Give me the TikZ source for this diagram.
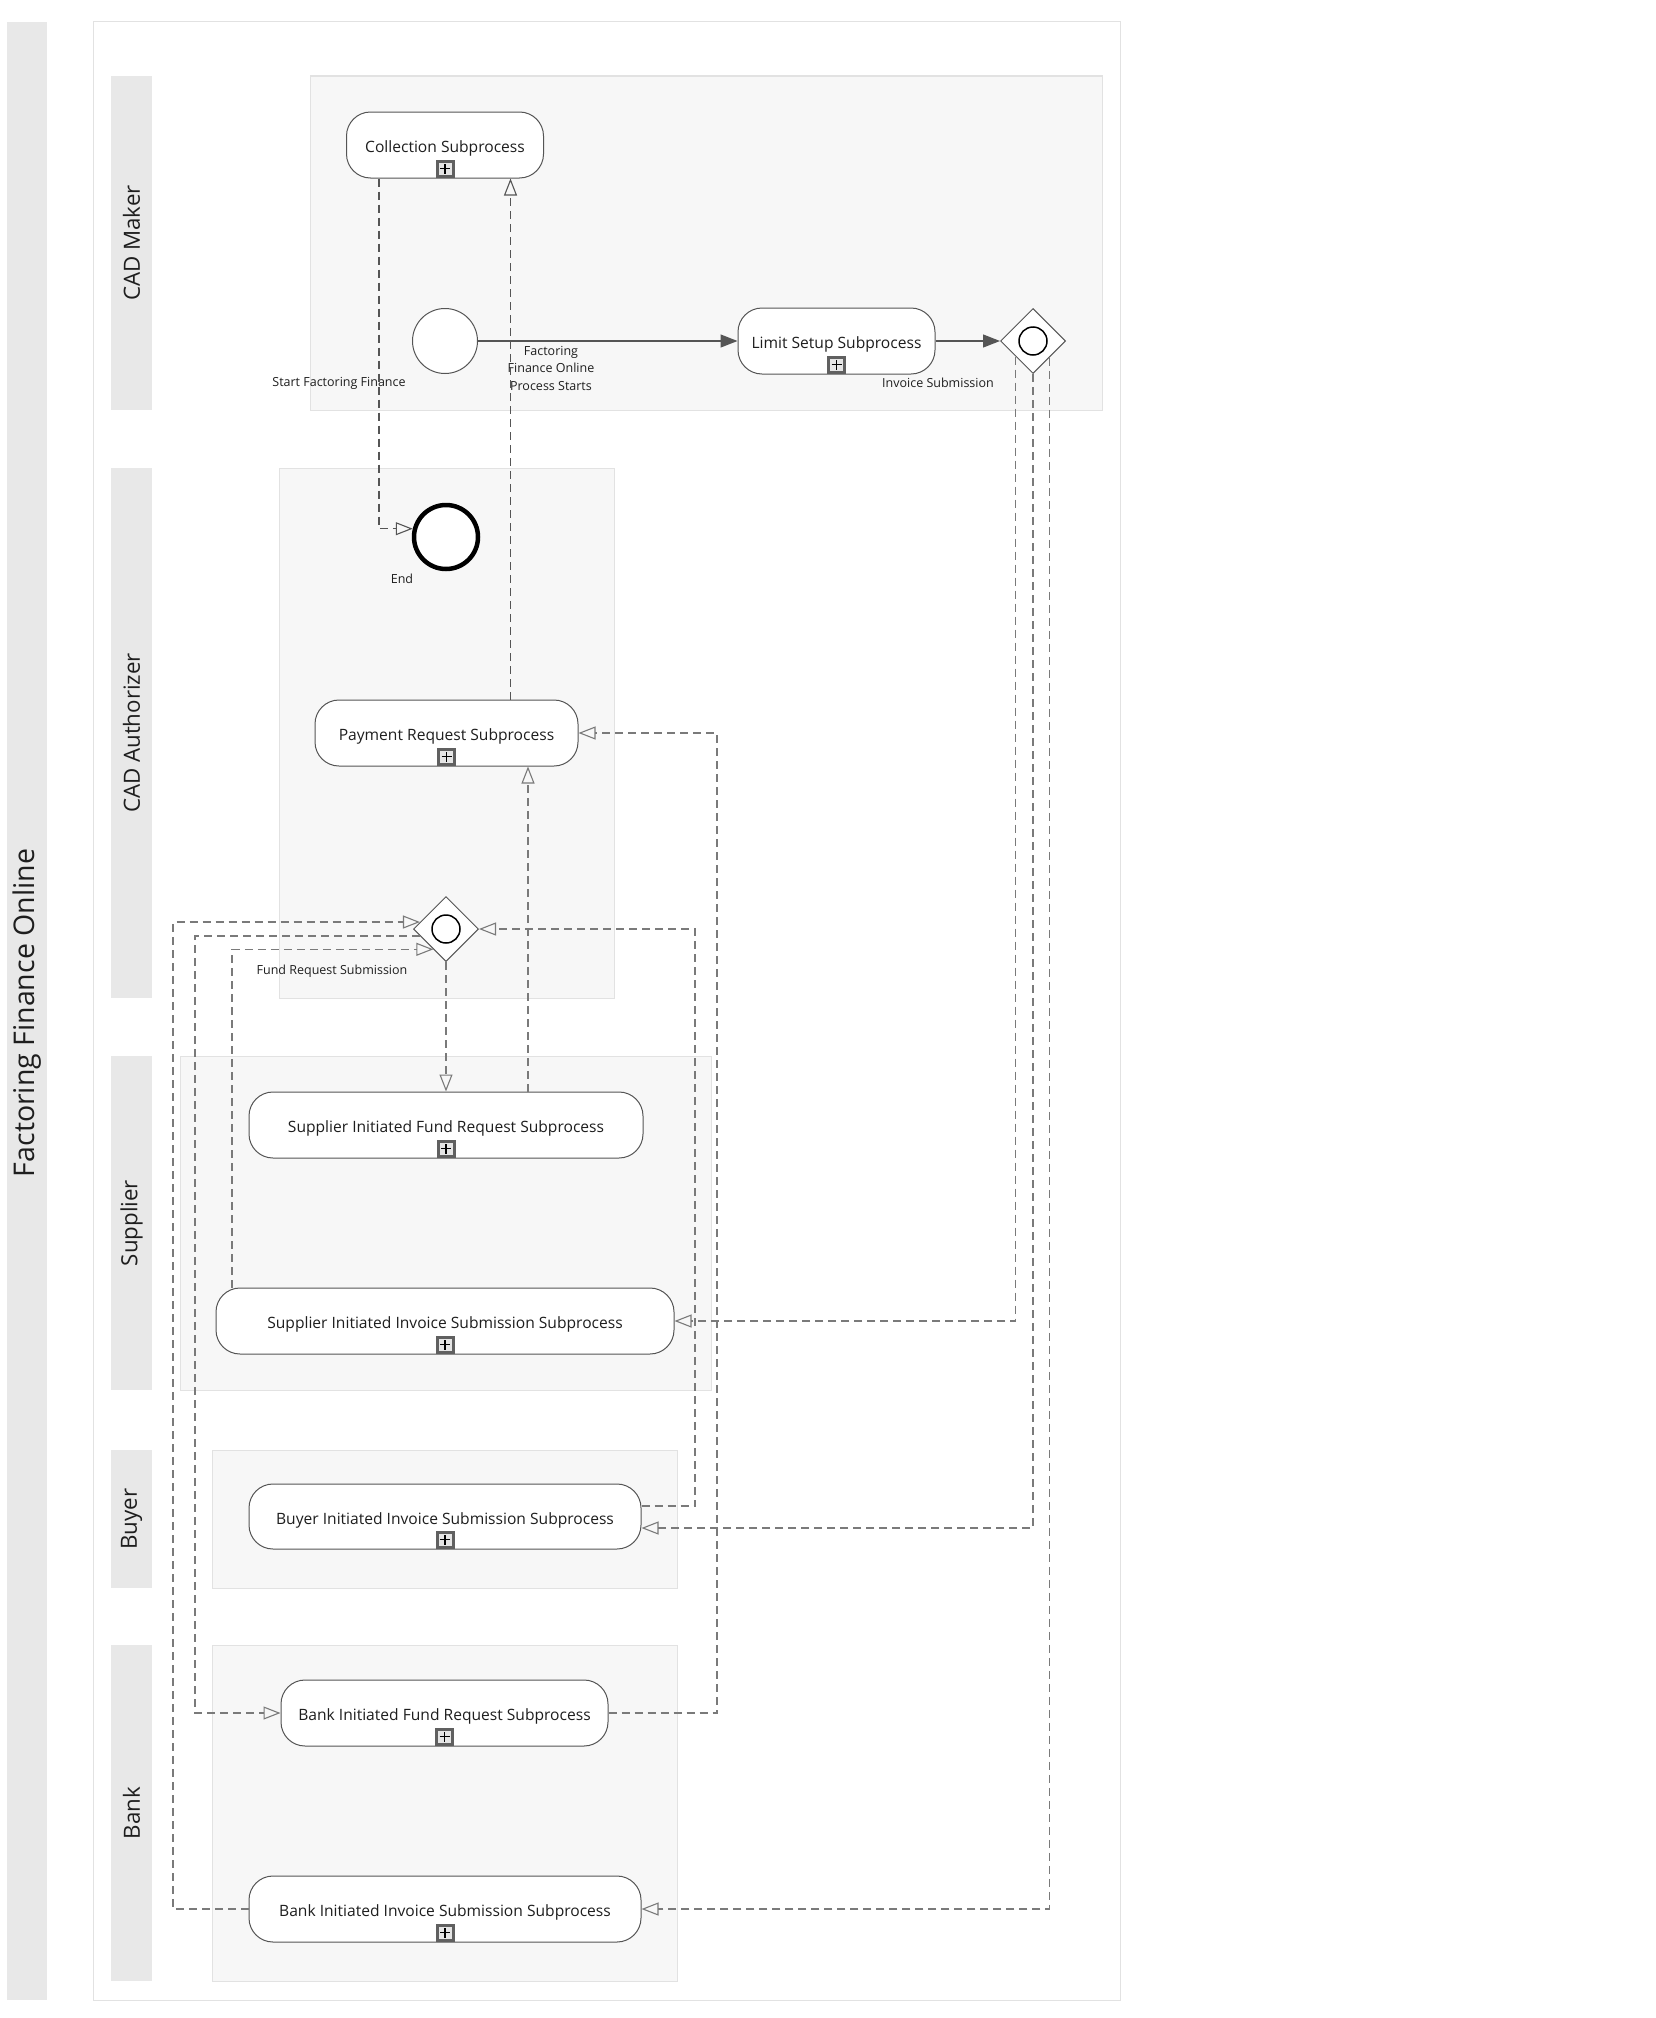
\documentclass[tikz,border=0pt]{standalone}
\usepackage{fontspec}
\setmainfont{Open Sans}
\usetikzlibrary{arrows.meta,calc,shapes.geometric}
\definecolor{bandgray}{HTML}{E8E8E8}
\definecolor{lanefill}{HTML}{F7F7F7}
\definecolor{laneline}{HTML}{E2E2E2}
\definecolor{nodeline}{HTML}{555555}
\definecolor{msgline}{HTML}{7A7A7A}
\definecolor{txt}{HTML}{1E1E1E}
\tikzset{
  band/.style={fill=bandgray,draw=none},
  lanebox/.style={fill=lanefill,draw=laneline,line width=1pt},
  subproc/.style={rectangle,rounded corners=24pt,draw=nodeline,fill=white,line width=1pt,
    minimum height=66pt,inner sep=0pt,text=txt,font=\fontsize{15.6}{18}\selectfont,
    text height=15pt,text depth=0pt},
  startev/.style={circle,draw=nodeline,fill=white,line width=1pt,minimum size=65pt,inner sep=0pt},
  endev/.style={circle,draw=black,fill=white,line width=4.5pt,minimum size=64pt,inner sep=0pt},
  gateway/.style={diamond,draw=nodeline,fill=white,line width=1pt,minimum width=65pt,minimum height=65pt,inner sep=0pt,aspect=1},
  smalllbl/.style={text=txt,font=\fontsize{12.5}{17.5}\selectfont,inner sep=0pt,align=center},
  lanelbl/.style={text=txt,font=\fontsize{22.3}{25}\selectfont,rotate=90,inner sep=0pt},
  titlelbl/.style={text=txt,font=\fontsize{28.5}{31}\selectfont,rotate=90,inner sep=0pt},
  seqflow/.style={draw=nodeline,line width=1.3pt,-{Triangle[length=17pt,width=13pt,fill=nodeline]}},
  msgflow/.style={draw=msgline,line width=1.4pt,dash pattern=on 8pt off 5pt,
    -{Triangle[open,length=17pt,width=13pt,line width=1.1pt]}},
}
\newcommand\plusmark[1]{%
  \fill[gray!75!black] ($(#1.south)+(-9.5,-1)$) rectangle ($(#1.south)+(9.5,-19)$);
  \fill[gray!20] ($(#1.south)+(-6.5,-4)$) rectangle ($(#1.south)+(6.5,-16)$);
  \draw[black,line width=1.6pt] ($(#1.south)+(-5,-10)$) -- ($(#1.south)+(5,-10)$);
  \draw[black,line width=1.6pt] ($(#1.south)+(0,-5)$) -- ($(#1.south)+(0,-15)$);
}
\begin{document}
\begin{tikzpicture}[x=1pt,y=-1pt]
\useasboundingbox (0,0) rectangle (1656,2018);
\fill[white] (0,0) rectangle (1656,2018);
% pool title band and frame
\fill[band] (7,22) rectangle (47,2000);
\draw[laneline,line width=1pt,fill=white] (93,22) rectangle (1120,2000);
\node[titlelbl] (title) at (27,1013) {Factoring Finance Online};
% lane bands
\fill[band] (111,76) rectangle (152,410);
\fill[band] (111,468) rectangle (152,998);
\fill[band] (111,1056) rectangle (152,1390);
\fill[band] (111,1450) rectangle (152,1588);
\fill[band] (111,1645) rectangle (152,1981);
\node[lanelbl] (l1) at (131.5,243) {CAD Maker};
\node[lanelbl] (l2) at (131.5,733) {CAD Authorizer};
\node[lanelbl] (l3) at (131.5,1223) {Supplier};
\node[lanelbl] (l4) at (131.5,1519) {Buyer};
\node[lanelbl] (l5) at (131.5,1813) {Bank};
% lane content boxes
\draw[lanebox] (310,76) rectangle (1102,410);
\draw[lanebox] (279,468) rectangle (614,998);
\draw[lanebox] (180,1056) rectangle (711,1390);
\draw[lanebox] (212,1450) rectangle (677,1588);
\draw[lanebox] (212,1645) rectangle (677,1981);
% coordinates for routing columns
\coordinate (x173) at (173,0);
\coordinate (x195) at (195,0);
\coordinate (x695) at (695,0);
\coordinate (x717) at (717,0);
% nodes
\node[subproc,minimum width=197pt] (coll) at (445,145) {Collection Subprocess};
\node[startev] (start) at (445,341) {};
\node[subproc,minimum width=197pt] (lim) at (836.5,341) {Limit Setup Subprocess};
\node[gateway] (g1) at (1033,341) {};
\draw[black,line width=1.5pt] (g1.center) circle (14pt);
\node[endev] (endev) at (446,537) {};
\node[subproc,minimum width=263pt] (pay) at (446.5,733) {Payment Request Subprocess};
\node[gateway] (g2) at (446,929) {};
\draw[black,line width=1.5pt] (g2.center) circle (14pt);
\node[subproc,minimum width=394pt] (sf) at (446,1125) {Supplier Initiated Fund Request Subprocess};
\node[subproc,minimum width=458pt] (si) at (445,1321) {Supplier Initiated Invoice Submission Subprocess};
\node[subproc,minimum width=392pt,minimum height=65pt] (bi) at (445,1516.5) {Buyer Initiated Invoice Submission Subprocess};
\node[subproc,minimum width=327pt] (bf) at (444.5,1713) {Bank Initiated Fund Request Subprocess};
\node[subproc,minimum width=392pt] (bk) at (445,1909) {Bank Initiated Invoice Submission Subprocess};
\plusmark{coll}\plusmark{lim}\plusmark{pay}\plusmark{sf}\plusmark{si}\plusmark{bi}\plusmark{bf}\plusmark{bk}
% labels
\node[smalllbl] (lstart) at (339,383) {Start Factoring Finance};
\node[smalllbl] (lflow) at (551,368) {Factoring\\Finance Online\\Process Starts};
\node[smalllbl] (lg1) at (938,383) {Invoice Submission};
\node[smalllbl] (lend) at (402,579) {End};
\node[smalllbl] (lg2) at (332,971) {Fund Request Submission};
% sequence flows
\draw[seqflow] (start.east) -- (lim.west);
\draw[seqflow] (lim.east) -- (g1.west);
% message / dashed flows
\coordinate (a1) at ($(coll.south)+(-66,0)$);
\draw[msgflow,line width=1.1pt,draw=nodeline] (a1) |- (endev.166);
\coordinate (a2) at ($(coll.south)+(65.5,0)$);
\draw[msgflow,line width=1.1pt,draw=nodeline] (a2 |- pay.north) -- (a2);
\coordinate (a3) at ($(pay.south)+(81.5,0)$);
\draw[msgflow] (a3 |- sf.north) -- (a3);
\draw[msgflow] (bf.east) -| (x717 |- pay.east) -- (pay.east);
\draw[msgflow] (g2.south) -- (sf.north);
\draw[msgflow] (g2.195) -| (x195 |- bf.west) -- (bf.west);
\draw[msgflow] (bk.west) -| (x173 |- g2.165) -- (g2.165);
\coordinate (a8) at ($(si.north)+(-213,0)$);
\draw[msgflow] (a8) |- (g2.238);
\coordinate (a9) at ($(bi.east)+(0,-10.5)$);
\draw[msgflow] (a9) -| (x695 |- g2.east) -- (g2.east);
\draw[msgflow] (g1.222) |- (si.east);
\coordinate (a11) at ($(bi.east)+(0,11.5)$);
\draw[msgflow] (g1.south) |- (a11);
\draw[msgflow] (g1.314) |- (bk.east);
\end{tikzpicture}
\end{document}
